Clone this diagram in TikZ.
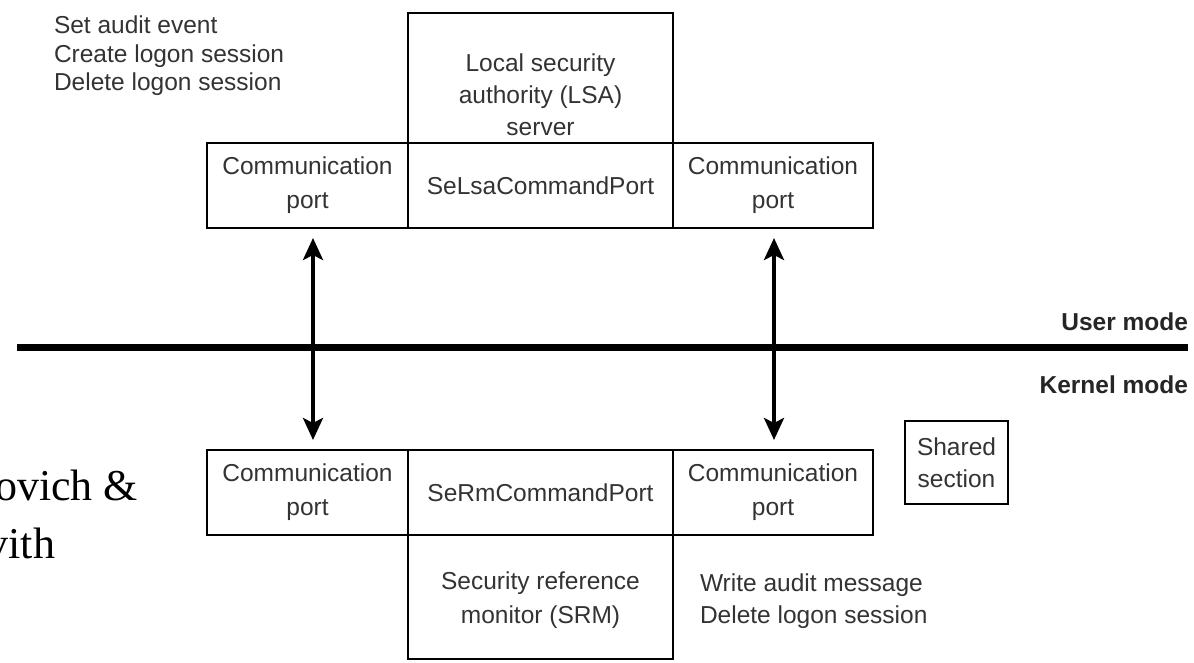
\documentclass[tikz,border=0pt]{standalone}
\usepackage{fontspec}
\setmainfont{Liberation Sans}
\newfontfamily\serifface{Liberation Serif}
\usetikzlibrary{arrows.meta}
\definecolor{txt}{HTML}{333333}
\tikzset{
  boxstyle/.style={draw=black, line width=2.6pt, inner sep=0pt, outer sep=0pt,
    align=center, text=txt, font=\fontsize{24.5}{34}\selectfont},
  plaintext/.style={inner sep=0pt, outer sep=0pt, text=txt, font=\fontsize{24.5}{33}\selectfont},
  modetext/.style={inner sep=0pt, outer sep=0pt, text=black!85, font=\bfseries\fontsize{24.5}{28}\selectfont},
  biarrow/.style={line width=4pt, {Stealth[length=22pt,width=20pt,inset=5pt]}-{Stealth[length=22pt,width=20pt,inset=5pt]},
    shorten <=10pt, shorten >=10pt},
  cuttext/.style={inner sep=0pt, outer sep=0pt, text=black, font=\serifface\fontsize{44}{50}\selectfont}
}
\begin{document}
\begin{tikzpicture}[x=1pt,y=-1pt]
\useasboundingbox (0,0) rectangle (1194,663);
\clip (0,0) rectangle (1194,663);

% top (user mode) group
\node[boxstyle, minimum width=201pt, minimum height=85pt] (ul) at (307.5,185.5) {Communication\\port};
\node[boxstyle, minimum width=265pt, minimum height=85pt] (us) at (540.5,185.5) {SeLsaCommandPort};
\node[boxstyle, minimum width=200pt, minimum height=85pt] (ur) at (773,185.5) {Communication\\port};
\node[boxstyle, minimum width=265pt, minimum height=130pt] (lsa) at (540.5,78) {};
\node[plaintext, align=center, font=\fontsize{24.5}{32}\selectfont] (lsatext) at (540.5,95) {Local security\\authority (LSA)\\server};

\node[plaintext, align=left, anchor=north west, font=\fontsize{24.5}{28.5}\selectfont] (ops1) at (54,16)
  {Set audit event\\Create logon session\\Delete logon session};

% mode separator
\coordinate (sepL) at (17,347);
\coordinate (sepR) at (1188,347);
\draw[line width=7pt] (sepL) -- (sepR);
\node[modetext, anchor=east] (um) at (1188,322) {User mode};
\node[modetext, anchor=east] (km) at (1188,385) {Kernel mode};

% bottom (kernel mode) group
\node[boxstyle, minimum width=201pt, minimum height=85pt] (ll) at (307.5,492.5) {Communication\\port};
\node[boxstyle, minimum width=265pt, minimum height=85pt] (ls) at (540.5,492.5) {SeRmCommandPort};
\node[boxstyle, minimum width=200pt, minimum height=85pt] (lr) at (773,492.5) {Communication\\port};
\node[boxstyle, minimum width=265pt, minimum height=124pt] (srm) at (540.5,597) {};
\node[plaintext, align=center, font=\fontsize{24.5}{34}\selectfont] (srmtext) at (540.5,600) {Security reference\\monitor (SRM)};
\node[boxstyle, minimum width=103pt, minimum height=83pt, font=\fontsize{24.5}{32}\selectfont] (shared) at (956.5,462.5) {Shared\\section};

\node[plaintext, align=left, anchor=north west, font=\fontsize{24.5}{32}\selectfont] (ops2) at (700,574)
  {Write audit message\\Delete logon session};

% connectors
\draw[biarrow] ([xshift=5.5pt]ul.south) -- ([xshift=5.5pt]ll.north);
\draw[biarrow] ([xshift=1pt]ur.south) -- ([xshift=1pt]lr.north);

% clipped body text at the left margin
\node[cuttext, anchor=base east] (cut1) at (138,500) {ovich \&};
\node[cuttext, anchor=base east] (cut2) at (55,558) {vith};
\end{tikzpicture}
\end{document}
